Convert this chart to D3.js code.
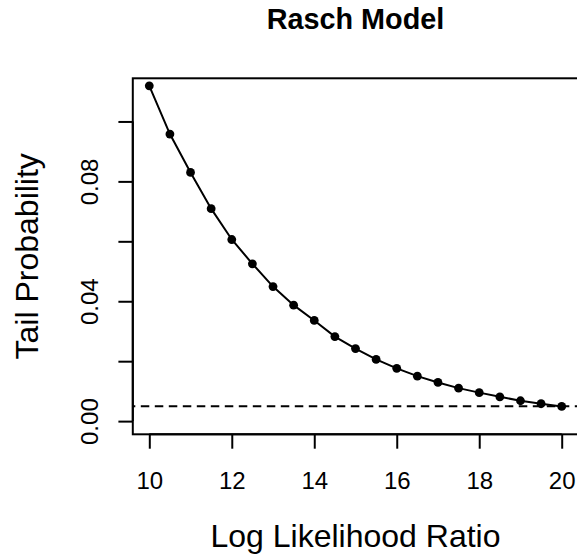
<!DOCTYPE html>
<html>
<head>
<meta charset="utf-8">
<script src="https://cdn.jsdelivr.net/npm/d3@7"></script>
<style>
  html, body { margin: 0; padding: 0; background: #fff; }
  svg { display: block; font-family: "Liberation Sans", Arial, sans-serif; }
</style>
</head>
<body>
<svg id="chart" width="577" height="557"></svg>
<script>
// ---- data ----
const logLR = [10, 10.5, 11, 11.5, 12, 12.5, 13, 13.5, 14, 14.5, 15, 15.5, 16, 16.5, 17, 17.5, 18, 18.5, 19, 19.5, 20];
const tailProb = [0.1119, 0.0958, 0.0830, 0.0709, 0.0606, 0.0525, 0.0449, 0.0387, 0.0336, 0.0282, 0.0242, 0.0206, 0.0176, 0.0150, 0.0129, 0.0110, 0.0095, 0.0081, 0.0068, 0.0058, 0.0049];
const threshold = 0.005;
const xTicks = [10, 12, 14, 16, 18, 20];
const yTicks = [0, 0.02, 0.04, 0.06, 0.08, 0.10];
const yTickLabels = ["0.00", "", "0.04", "", "0.08", ""];
const xLim = [10, 20];
const yLim = [0, 0.11];

// ---- layout ----
const svg = d3.select("#chart");
const plotL = 132.8, plotR = 578.2, plotT = 78.3, plotB = 434.3;
const ext = (lim) => { const d = (lim[1] - lim[0]) * 0.04; return [lim[0] - d, lim[1] + d]; };

const x = d3.scaleLinear().domain(ext(xLim)).range([plotL, plotR]);
const y = d3.scaleLinear().domain(ext(yLim)).range([plotB, plotT]);

// clip region for plot content
svg.append("defs").append("clipPath").attr("id", "clip")
  .append("rect").attr("x", plotL).attr("y", plotT)
  .attr("width", plotR - plotL).attr("height", plotB - plotT);

const g = svg.append("g").attr("clip-path", "url(#clip)");

// dashed threshold line
g.append("line")
  .attr("x1", x.range()[0] - 6).attr("x2", x.range()[1])
  .attr("y1", y(threshold)).attr("y2", y(threshold))
  .attr("stroke", "#000").attr("stroke-width", 2)
  .attr("stroke-dasharray", "8.5,5.5");

// line
g.append("path")
  .datum(logLR.map((v, i) => [v, tailProb[i]]))
  .attr("fill", "none").attr("stroke", "#000").attr("stroke-width", 2)
  .attr("d", d3.line().x(d => x(d[0])).y(d => y(d[1])));

// points
g.selectAll("circle.pt")
  .data(logLR.map((v, i) => [v, tailProb[i]]))
  .join("circle").attr("class", "pt")
  .attr("cx", d => x(d[0])).attr("cy", d => y(d[1]))
  .attr("r", 4.4).attr("fill", "#000");

// box
svg.append("rect")
  .attr("x", plotL).attr("y", plotT)
  .attr("width", plotR - plotL).attr("height", plotB - plotT)
  .attr("fill", "none").attr("stroke", "#000").attr("stroke-width", 2);

// x axis
const xAxis = d3.axisBottom(x).tickValues(xTicks).tickSize(14.4).tickPadding(25).tickFormat(d3.format("d"));
const gx = svg.append("g").attr("transform", `translate(0,${plotB})`).call(xAxis);
gx.select(".domain").attr("d", `M${x(xTicks[0])},0H${x(xTicks[xTicks.length - 1])}`).attr("stroke-width", 2);
gx.selectAll(".tick line").attr("stroke-width", 2);
gx.selectAll(".tick text")
  .attr("font-size", 24).attr("font-family", "Liberation Sans, Arial, sans-serif")
  .attr("fill", "#000").attr("dy", null).attr("y", 489 - plotB);

// y axis
const yAxis = d3.axisLeft(y).tickValues(yTicks).tickSize(14.4)
  .tickFormat((d, i) => yTickLabels[i]);
const gy = svg.append("g").attr("transform", `translate(${plotL},0)`).call(yAxis);
gy.select(".domain").attr("d", `M0,${y(yTicks[0])}V${y(yTicks[yTicks.length - 1])}`).attr("stroke-width", 2);
gy.selectAll(".tick line").attr("stroke-width", 2);
gy.selectAll(".tick text")
  .attr("font-size", 24).attr("font-family", "Liberation Sans, Arial, sans-serif")
  .attr("fill", "#000")
  .attr("x", null).attr("dy", null)
  .attr("text-anchor", "middle")
  .attr("transform", `translate(${97.7 - plotL},0) rotate(-90)`);

// title
svg.append("text")
  .attr("x", (plotL + plotR) / 2).attr("y", 28.5)
  .attr("text-anchor", "middle").attr("font-weight", "bold").attr("font-size", 28.8)
  .text("Rasch Model");

// x label
svg.append("text")
  .attr("x", (plotL + plotR) / 2).attr("y", 547)
  .attr("text-anchor", "middle").attr("font-size", 32)
  .text("Log Likelihood Ratio");

// y label
svg.append("text")
  .attr("transform", `translate(38.3,${(plotT + plotB) / 2}) rotate(-90)`)
  .attr("text-anchor", "middle").attr("font-size", 32)
  .text("Tail Probability");
</script>
</body>
</html>
